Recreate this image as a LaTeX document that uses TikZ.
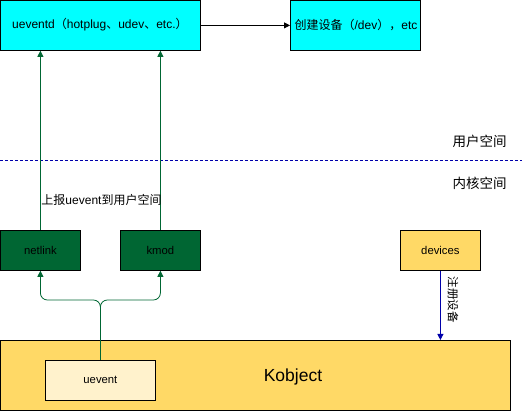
\documentclass[tikz,border=0pt]{standalone}
\usepackage{fontspec}
\setmainfont{Liberation Sans}
\newfontfamily\cjk{Noto Sans CJK SC}
\usetikzlibrary{arrows.meta}
\definecolor{cyanfill}{HTML}{00FFFF}
\definecolor{dgreen}{HTML}{006633}
\definecolor{ygold}{HTML}{FFD966}
\definecolor{ylight}{HTML}{FFF2CC}
\definecolor{lineblue}{HTML}{0000AA}
\begin{document}
\begin{tikzpicture}[x=1pt,y=-1pt,
  box/.style={draw=black, line width=0.8pt, inner sep=0pt, font=\fontsize{11.3}{13}\selectfont},
  garrow/.style={draw=dgreen, line width=0.8pt, -{Triangle[length=6pt,width=6pt]}},
  lbl/.style={font=\fontsize{12}{14}\selectfont, inner sep=0pt}]
\useasboundingbox (0,0) rectangle (522,411);
% boxes
\node[box, fill=cyanfill, minimum width=200pt, minimum height=50pt] (ud) at (100.4,25.4) {};
\node[lbl, anchor=west] (udt) at (12,25) {ueventd{\cjk （}hotplug{\cjk 、}udev{\cjk 、}etc.{\cjk ）}};
\node[box, fill=cyanfill, minimum width=130pt, minimum height=50pt] (cj) at (355.4,25.4) {};
\node[lbl] (cjt) at (356,25.4) {{\cjk 创建设备（}/dev{\cjk ），}etc};
\node[box, fill=dgreen, minimum width=80pt, minimum height=40pt] (nl) at (40.4,250.4) {netlink};
\node[box, fill=dgreen, minimum width=80pt, minimum height=40pt] (km) at (160.4,250.4) {kmod};
\node[box, fill=ygold, minimum width=80pt, minimum height=40pt] (dv) at (440.4,250.4) {devices};
\node[box, fill=ygold, minimum width=510pt, minimum height=70pt] (ko) at (255.4,375.4) {};
\node[lbl, font=\fontsize{17.5}{20}\selectfont] (kot) at (293,377) {Kobject};
\node[box, fill=ylight, minimum width=110pt, minimum height=40pt] (ue) at (100.4,380.4) {uevent};
% dashed separator
\coordinate (dl) at (0,160);
\coordinate (dr) at (522,160);
\draw[lineblue, line width=0.6pt, dash pattern=on 3pt off 2pt] (dl) -- (dr);
\node[lbl, font=\cjk\fontsize{13.5}{16}\selectfont] (us) at (479.5,141) {用户空间};
\node[lbl, font=\cjk\fontsize{13.5}{16}\selectfont] (ks) at (479.5,183) {内核空间};
% connectors
\draw[line width=0.8pt, -{Triangle[length=6pt,width=6pt]}] (ud.east) -- (cj.west);
\draw[garrow] (nl.north) -- (nl.north |- ud.south);
\draw[garrow] (km.north) -- (km.north |- ud.south);
\node[lbl] (sb) at (101.5,199.5) {{\cjk 上报}uevent{\cjk 到用户空间}};
\coordinate (sp) at (100.4,300);
\draw[garrow, rounded corners=7pt] (ue.north) -- (sp) -- (sp -| nl.south) -- (nl.south);
\draw[garrow, rounded corners=7pt] (ue.north) -- (sp) -- (sp -| km.south) -- (km.south);
\draw[draw=lineblue, line width=0.8pt, -{Triangle[length=6pt,width=6pt]}] (dv.south) -- (dv.south |- ko.north);
\node[lbl, rotate=-90, font=\cjk\fontsize{11.5}{13}\selectfont] (zc) at (453,300) {注册设备};
\end{tikzpicture}
\end{document}
